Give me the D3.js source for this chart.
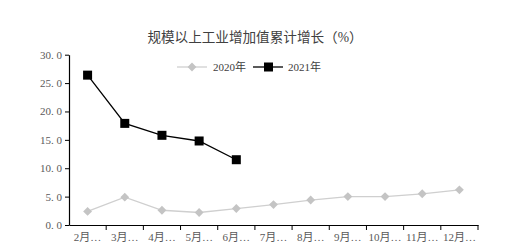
<!DOCTYPE html>
<html>
<head>
<meta charset="utf-8">
<script src="https://cdn.jsdelivr.net/npm/d3@7"></script>
<style>
  body { margin: 0; background: #fff; }
  svg text { font-family: "Liberation Serif", "DejaVu Serif", "Noto Sans CJK SC", serif; }
</style>
</head>
<body>
<svg id="chart" width="529" height="249"></svg>
<script>
// 数据
const months = ["2月…", "3月…", "4月…", "5月…", "6月…", "7月…", "8月…", "9月…", "10月…", "11月…", "12月…"];
const values2020 = [2.4, 4.9, 2.6, 2.2, 2.9, 3.6, 4.4, 5.0, 5.0, 5.5, 6.2];
const values2021 = [26.4, 17.9, 15.8, 14.8, 11.5];
const yTicks = [0, 5, 10, 15, 20, 25, 30];
const seriesNames = ["2020年", "2021年"];
const title = "规模以上工业增加值累计增长（%）";

var svg = d3.select("#chart");

var plotLeft = 69, plotRight = 478, plotTop = 54.7, plotBottom = 225;

var x = d3.scaleBand()
          .domain(months)
          .range([plotLeft, plotRight]);

var y = d3.scaleLinear()
          .domain([0, 30])
          .range([plotBottom, plotTop]);

// 标题
svg.append("text")
   .attr("x", 255)
   .attr("y", 42)
   .attr("text-anchor", "middle")
   .attr("font-size", 13.6)
   .attr("fill", "#404040")
   .text(title);

// y 轴
var yAxis = d3.axisLeft(y)
              .tickValues(yTicks)
              .tickSize(4)
              .tickSizeOuter(0)
              .tickFormat(function(d) { return d3.format(".1f")(d).replace(".", ". "); });

var gy = svg.append("g")
            .attr("transform", "translate(" + plotLeft + ",0)")
            .call(yAxis);
gy.select(".domain").attr("stroke", "#000").attr("stroke-width", 1.2);
gy.selectAll(".tick line").attr("stroke", "#000");
gy.selectAll(".tick text")
  .attr("font-size", 11)
  .attr("fill", "#595959")
  .attr("x", -7);

// x 轴
var xAxis = d3.axisBottom(x).tickSize(0).tickSizeOuter(0);
var gx = svg.append("g")
            .attr("transform", "translate(0," + plotBottom + ")")
            .call(xAxis);
gx.select(".domain").attr("stroke", "#000").attr("stroke-width", 1.2);
gx.selectAll(".tick text")
  .attr("font-size", 11)
  .attr("fill", "#595959")
  .attr("y", 8);

// x 轴刻度线（类别之间）
gx.selectAll(".sep")
  .data(months)
  .enter()
  .append("line")
  .attr("class", "sep")
  .attr("x1", function(d) { return x(d) + x.bandwidth(); })
  .attr("x2", function(d) { return x(d) + x.bandwidth(); })
  .attr("y1", 0)
  .attr("y2", 5)
  .attr("stroke", "#000");

function cx(i) { return x(months[i]) + x.bandwidth() / 2; }

var line = d3.line()
             .x(function(d, i) { return cx(i); })
             .y(function(d) { return y(d); });

// 2020
svg.append("path")
   .datum(values2020)
   .attr("d", line)
   .attr("fill", "none")
   .attr("stroke", "#CFCFCF")
   .attr("stroke-width", 1.3);

var diamond = d3.symbol().type(d3.symbolDiamond2).size(50);
svg.selectAll(".p2020")
   .data(values2020)
   .enter()
   .append("path")
   .attr("class", "p2020")
   .attr("d", diamond)
   .attr("transform", function(d, i) { return "translate(" + cx(i) + "," + y(d) + ")"; })
   .attr("fill", "#C4C4C4");

// 2021
svg.append("path")
   .datum(values2021)
   .attr("d", line)
   .attr("fill", "none")
   .attr("stroke", "#000")
   .attr("stroke-width", 1.3);

svg.selectAll(".p2021")
   .data(values2021)
   .enter()
   .append("rect")
   .attr("class", "p2021")
   .attr("x", function(d, i) { return cx(i) - 4.5; })
   .attr("y", function(d) { return y(d) - 4.5; })
   .attr("width", 9)
   .attr("height", 9)
   .attr("fill", "#000");

// 图例
var legend = svg.append("g");
var lg1 = legend.append("g").attr("transform", "translate(177,67)");
lg1.append("line").attr("x1", 0).attr("x2", 30).attr("stroke", "#CFCFCF").attr("stroke-width", 1.3);
lg1.append("path").attr("d", diamond).attr("transform", "translate(15,0)").attr("fill", "#C4C4C4");
lg1.append("text").attr("x", 36).attr("y", 4).attr("font-size", 11).attr("fill", "#404040").text(seriesNames[0]);

var lg2 = legend.append("g").attr("transform", "translate(253,67)");
lg2.append("line").attr("x1", 0).attr("x2", 30).attr("stroke", "#000").attr("stroke-width", 1.3);
lg2.append("rect").attr("x", 11).attr("y", -4.5).attr("width", 9).attr("height", 9).attr("fill", "#000");
lg2.append("text").attr("x", 35).attr("y", 4).attr("font-size", 11).attr("fill", "#404040").text(seriesNames[1]);
</script>
</body>
</html>
